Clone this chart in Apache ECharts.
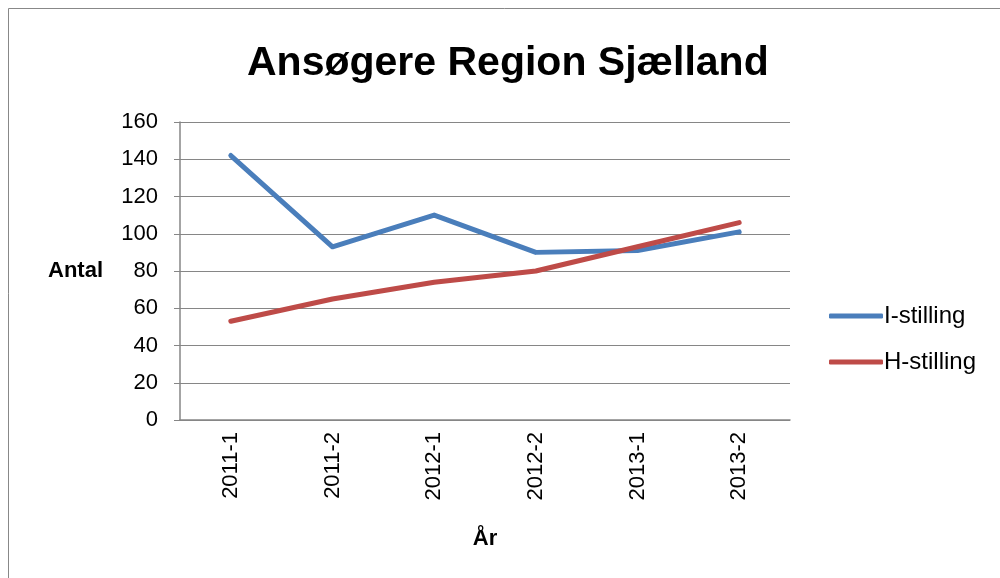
<!DOCTYPE html>
<html>
<head>
<meta charset="utf-8">
<script src="https://cdn.jsdelivr.net/npm/echarts@6/dist/echarts.min.js"></script>
<style>
html,body{margin:0;padding:0;background:#fff;}
#chart{width:1000px;height:578px;}
</style>
</head>
<body>
<div id="chart"></div>
<script>
const categories = ['2011-1','2011-2','2012-1','2012-2','2013-1','2013-2'];
const iStilling = [142, 93, 110, 90, 91, 101];
const hStilling = [53, 65, 74, 80, 93, 106];
const seriesNames = ['I-stilling', 'H-stilling'];
const titleText = 'Ansøgere Region Sjælland';
const yAxisName = 'Antal';
const xAxisName = 'År';

const chart = echarts.init(document.getElementById('chart'), null, {renderer: 'canvas'});
const font = 'Liberation Sans, Arial, sans-serif';
chart.setOption({
  animation: false,
  backgroundColor: '#fff',
  textStyle: {fontFamily: font},
  title: {
    text: titleText,
    left: 242,
    top: 38,
    textStyle: {fontFamily: font, fontSize: 41, fontWeight: 'bold', color: '#000'}
  },
  graphic: [{
    type: 'rect',
    shape: {x: 8.5, y: 8.5, width: 1000, height: 600},
    style: {fill: 'none', stroke: '#888', lineWidth: 1},
    silent: true
  }],
  grid: {left: 180, right: 210, top: 122, bottom: 158},
  legend: {
    orient: 'vertical',
    left: 829,
    top: 304,
    padding: 0,
    itemWidth: 54,
    itemHeight: 5,
    itemGap: 22,
    icon: 'roundRect',
    textStyle: {fontSize: 24, color: '#000', padding: [0, 0, 0, -4]},
    data: seriesNames
  },
  xAxis: {
    type: 'category',
    data: categories,
    boundaryGap: true,
    name: xAxisName,
    nameLocation: 'middle',
    nameGap: 108,
    nameTextStyle: {fontSize: 22, fontWeight: 'bold', color: '#000'},
    axisLine: {lineStyle: {color: '#868686', width: 1.5}},
    axisTick: {show: false},
    axisLabel: {rotate: 90, fontSize: 22, color: '#000', margin: 12}
  },
  yAxis: {
    type: 'value',
    min: 0,
    max: 160,
    interval: 20,
    name: yAxisName,
    nameLocation: 'middle',
    nameRotate: 0,
    nameGap: 77,
    nameTextStyle: {fontSize: 22, fontWeight: 'bold', color: '#000'},
    axisLine: {show: true, lineStyle: {color: '#868686', width: 1.5}},
    axisTick: {show: true, length: 6, lineStyle: {color: '#868686'}},
    axisLabel: {fontSize: 22, color: '#000', margin: 22},
    splitLine: {lineStyle: {color: '#868686', width: 1.2}}
  },
  series: [{
    name: seriesNames[0],
    type: 'line',
    data: iStilling,
    symbol: 'none',
    lineStyle: {width: 5, color: '#4A7EBB', cap: 'round', join: 'round'},
    itemStyle: {color: '#4A7EBB'}
  }, {
    name: seriesNames[1],
    type: 'line',
    data: hStilling,
    symbol: 'none',
    lineStyle: {width: 5, color: '#BE4B48', cap: 'round', join: 'round'},
    itemStyle: {color: '#BE4B48'}
  }]
});
</script>
</body>
</html>
